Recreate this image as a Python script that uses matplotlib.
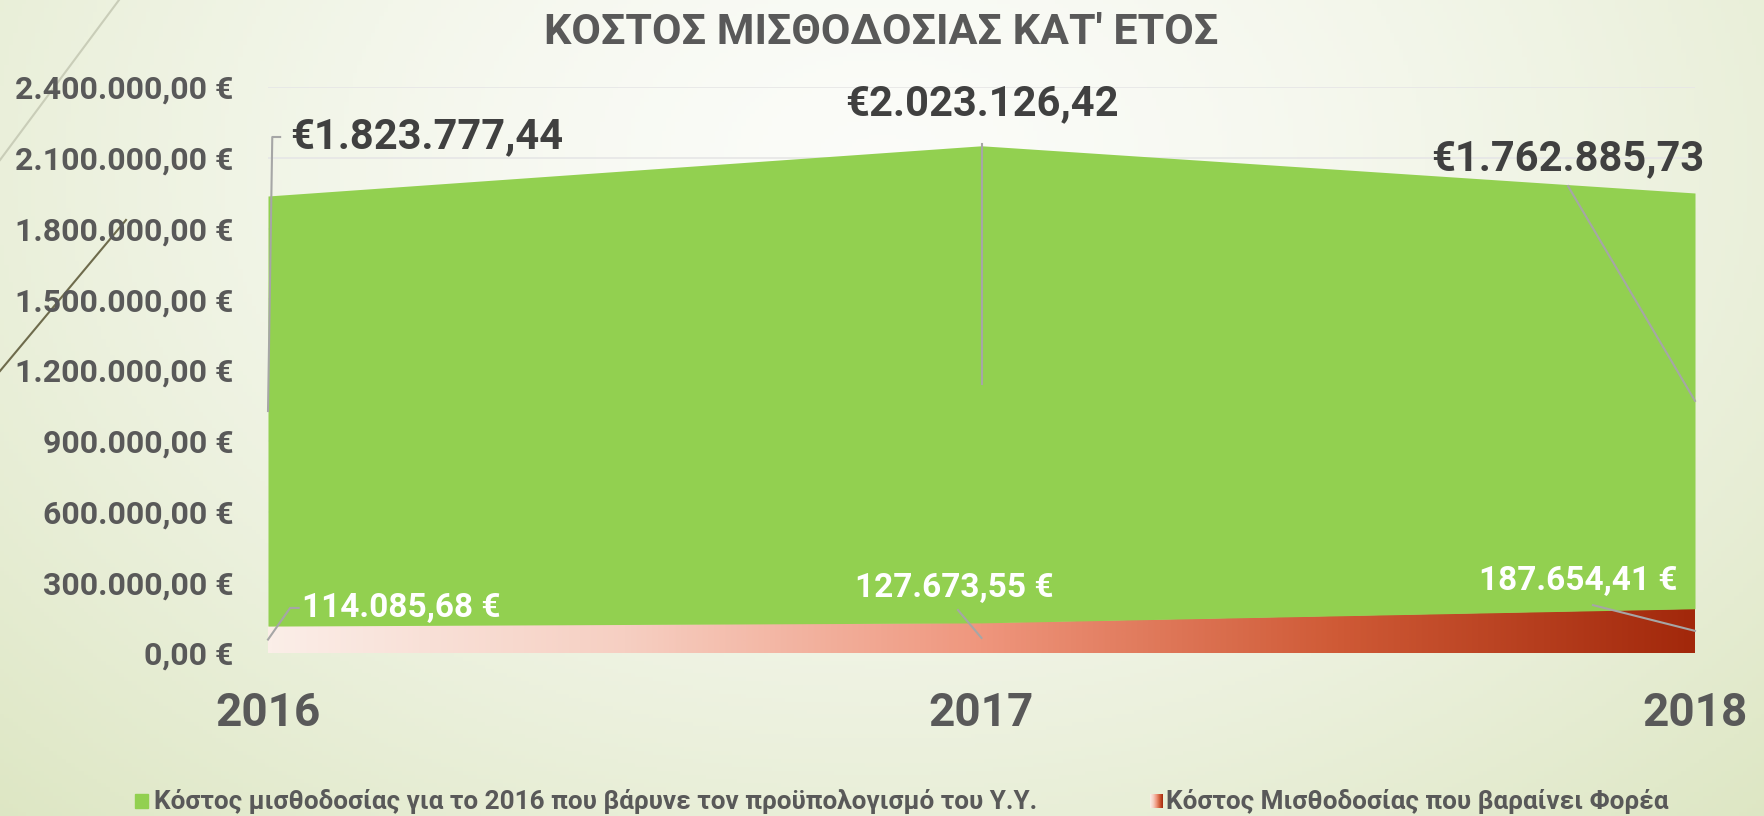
import numpy as np
import matplotlib
matplotlib.use('Agg')
import matplotlib.pyplot as plt
from matplotlib.colors import LinearSegmentedColormap
from matplotlib.patches import Rectangle

plt.rcParams['font.family'] = ['Roboto', 'DejaVu Sans']

years = [2016, 2017, 2018]
green_vals = [1823777.44, 2023126.42, 1762885.73]
red_vals = [114085.68, 127673.55, 187654.41]
y_ticks = [0, 300000, 600000, 900000, 1200000, 1500000, 1800000, 2100000, 2400000]
title = "ΚΟΣΤΟΣ ΜΙΣΘΟΔΟΣΙΑΣ ΚΑΤ' ΕΤΟΣ"
green_name = "Κόστος μισθοδοσίας για το 2016 που βάρυνε τον προϋπολογισμό του Υ.Υ."
red_name = "Κόστος Μισθοδοσίας που βαραίνει Φορέα"

GRAY = '#595959'
DARK = '#404040'
GREEN = '#92D050'
LEADER = '#a6a6a6'
red_cmap = LinearSegmentedColormap.from_list('red', ['#fbeee8', '#f6cfc2', '#ef967d', '#cf5a36', '#a2280b'])


def eur(v):
    return f"{v:,.2f}".replace(',', 'X').replace('.', ',').replace('X', '.')


W, H = 1765, 816
fig = plt.figure(figsize=(W / 100, H / 100), dpi=100)

# background gradient
bg = fig.add_axes([0, 0, 1, 1], zorder=-10)
bg.axis('off')
yy, xx = np.mgrid[0:1:200j, 0:1:400j]
d = np.sqrt(((xx - 0.5) / 0.72) ** 2 + ((yy - 0.2) / 1.1) ** 2)
t = np.clip(d, 0, 1) ** 1.5
c0 = np.array([0.985, 0.988, 0.975])
c1 = np.array([0.87, 0.905, 0.77])
img = c0 * (1 - t[..., None]) + c1 * t[..., None]
bg.imshow(img, extent=[0, 1, 0, 1], aspect='auto', origin='upper')
bg.set_xlim(0, 1)
bg.set_ylim(0, 1)
# slide decoration lines
bg.plot([119 / W, 0], [1, 1 - 160 / H], color='#c9cdb8', lw=1.5)
bg.plot([126 / W, 0], [1 - 220 / H, 1 - 371 / H], color='#6e6b4c', lw=1.5)

ax = fig.add_axes([268 / W, 163 / H, (1695 - 268) / W, (729 - 163) / H])
ax.patch.set_alpha(0)

red = np.array(red_vals)
green = np.array(green_vals)
top = red + green

# red gradient area
poly = ax.fill_between(years, 0, red, color='none', lw=0)
grad = np.linspace(0, 1, 512).reshape(1, -1)
im = ax.imshow(grad, extent=[years[0], years[-1], 0, red.max()], aspect='auto',
               cmap=red_cmap, zorder=2)
im.set_clip_path(poly.get_paths()[0], transform=ax.transData)

ax.fill_between(years, red, top, color=GREEN, lw=0, zorder=2)

ax.set_xlim(years[0], years[-1])
ax.set_ylim(y_ticks[0], y_ticks[-1])
ax.set_yticks(y_ticks)
ax.set_yticklabels([eur(v) + ' €' for v in y_ticks])
ax.set_xticks(years)
ax.set_xticklabels([str(y) for y in years])
ax.tick_params(axis='y', length=0, pad=25, labelsize=23, labelcolor=GRAY)
ax.tick_params(axis='x', length=0, pad=27, labelsize=33, labelcolor=GRAY)
for lab in ax.get_xticklabels() + ax.get_yticklabels():
    lab.set_fontweight('bold')
ax.grid(axis='y', color='#e6e6e6', lw=1.2, zorder=0)
for s in ax.spines.values():
    s.set_visible(False)

# green data labels with leader lines
g_mid = red + green / 2
g_lab = [(2016.031, 2188000, 'left'), (2017.0, 2328000, 'center'), (2017.822, 2095000, 'center')]
for i, (lx, ly, ha) in enumerate(g_lab):
    ax.text(lx, ly, '€' + eur(green[i]), ha=ha, va='center', fontsize=30,
            fontweight='bold', color=DARK, zorder=5)
ax.plot([2016.017, 2016.006, years[0]], [2188000, 2188000, g_mid[0]], color=LEADER, lw=1.5, zorder=4, clip_on=False)
ax.plot([years[1], years[1]], [2158000, g_mid[1]], color=LEADER, lw=1.5, zorder=4)
ax.plot([2017.822, years[2]], [1980000, g_mid[2]], color=LEADER, lw=1.5, zorder=4, clip_on=False)

# red data labels with leader lines
r_mid = red / 2
r_lab = [(2016.048, 191000, 'left'), (2016.962, 275000, 'center'), (2017.836, 305000, 'center')]
for i, (lx, ly, ha) in enumerate(r_lab):
    ax.text(lx, ly, eur(red[i]) + ' €', ha=ha, va='center', fontsize=24,
            fontweight='bold', color='white', zorder=5)
ax.plot([2016.043, 2016.031, years[0]], [191000, 191000, r_mid[0]], color=LEADER, lw=1.5, zorder=4, clip_on=False)
ax.plot([2016.967, years[1]], [182000, r_mid[1]], color=LEADER, lw=1.5, zorder=4)
ax.plot([2017.857, years[2]], [203000, r_mid[2]], color=LEADER, lw=1.5, zorder=4, clip_on=False)

fig.text(881 / W, 1 - 32 / H, title, ha='center', va='center', fontsize=31,
         fontweight='bold', color=GRAY)

# legend
ly = 1 - 801 / H
fig.patches.append(Rectangle((135 / W, ly - 7 / H), 13 / W, 14 / H, color=GREEN,
                             transform=fig.transFigure, figure=fig))
fig.text(154 / W, ly, green_name, ha='left', va='center', fontsize=18.8,
         fontweight='bold', color=GRAY)
lax = fig.add_axes([1150 / W, ly - 7 / H, 13 / W, 14 / H])
lax.imshow(grad, aspect='auto', cmap=red_cmap)
lax.axis('off')
fig.text(1166 / W, ly, red_name, ha='left', va='center', fontsize=18.8,
         fontweight='bold', color=GRAY)

fig.savefig('out.png', dpi=100)
